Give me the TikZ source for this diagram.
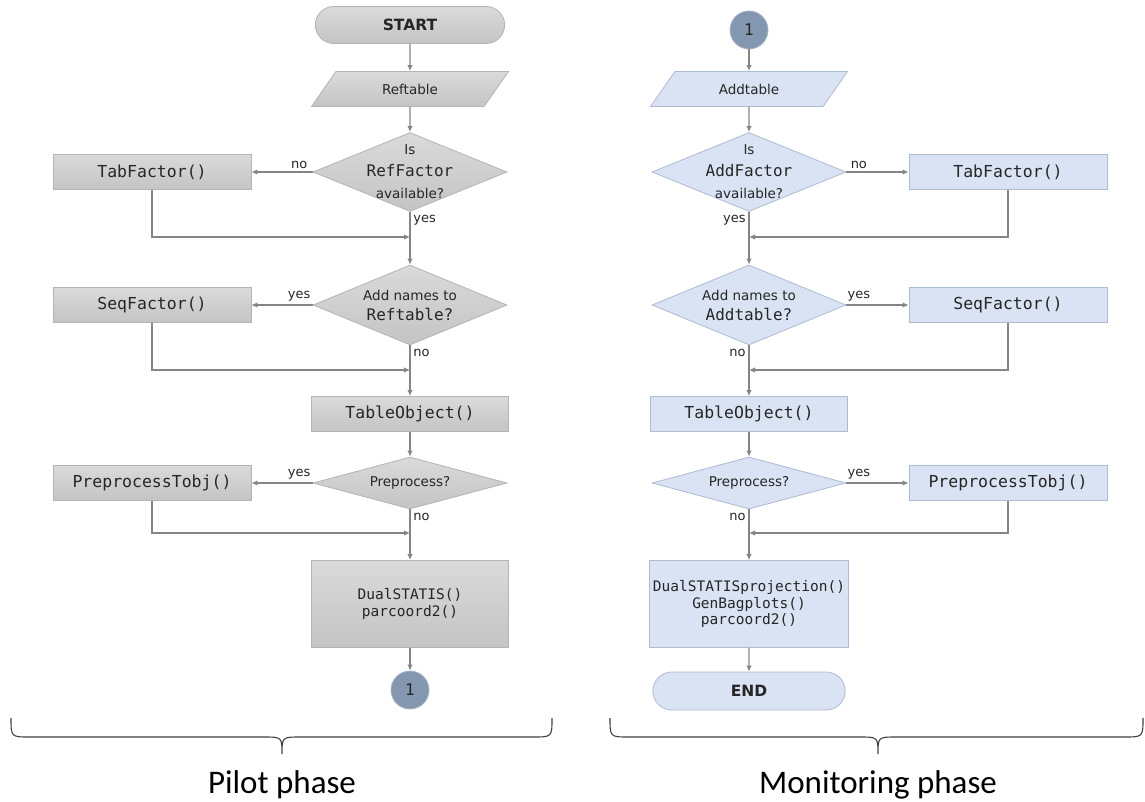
\documentclass[tikz,border=0pt]{standalone}
\usepackage{fontspec}
\setmainfont{DejaVu Sans}
\setmonofont{DejaVu Sans Mono}
\newfontfamily\phasefont{Carlito}
\usepackage{xcolor}
\usetikzlibrary{shapes.geometric,shapes.misc,arrows.meta}
\definecolor{pilottop}{HTML}{DADADA}
\definecolor{pilotbot}{HTML}{C4C4C4}
\definecolor{pilotline}{HTML}{B4B4B4}
\definecolor{monfill}{HTML}{DAE3F3}
\definecolor{monline}{HTML}{AEBBD3}
\definecolor{circfill}{HTML}{8497B0}
\definecolor{circline}{HTML}{A7B3C6}
\definecolor{arrgrey}{HTML}{858585}
\definecolor{txt}{HTML}{262626}
\tikzset{
  pilot/.style={draw=pilotline, top color=pilottop, bottom color=pilotbot},
  mon/.style={draw=monline, fill=monfill},
  every node/.style={text=txt, line width=0.8pt},
  term/.style={rounded rectangle, minimum width=196, minimum height=37, font=\bfseries\fontsize{15.5}{18}\selectfont},
  iobox/.style={trapezium, trapezium left angle=35, trapezium right angle=145, trapezium stretches body, minimum width=197, minimum height=35, font=\fontsize{13.5}{16}\selectfont},
  fbox/.style={rectangle, minimum width=198, minimum height=35, font=\ttfamily\fontsize{16.5}{18}\selectfont},
  bigbox/.style={rectangle, minimum width=197, minimum height=87, align=center, font=\ttfamily\fontsize{14.5}{16.5}\selectfont},
  dec/.style={diamond, minimum width=194, minimum height=#1, inner sep=0pt},
  dectext/.style={align=center, font=\fontsize{13.5}{22}\selectfont},
  conn/.style={circle, minimum size=38, inner sep=0pt, fill=circfill, draw=circline, font=\ttfamily\fontsize{16}{18}\selectfont},
  arr/.style={draw=arrgrey, line width=1.1pt, -{Latex[length=6pt,width=5.5pt]}},
  ylab/.style={font=\fontsize{13}{15}\selectfont, inner sep=3pt},
  brace/.style={draw=black!75, line width=1.1pt},
}
\begin{document}
\begin{tikzpicture}[x=1pt,y=-1pt]
\useasboundingbox (0,0) rectangle (1145,802);
\node[term,pilot] (start) at (410,25) {START};
\node[iobox,pilot] (reft) at (410,89) {Reftable};
\node[dec=79,pilot,label={[dectext]center:Is\\{\ttfamily\fontsize{16}{18}\selectfont RefFactor}\\available?}] (pd1) at (410,172) {};
\node[fbox,pilot] (ptab) at (152,172) {TabFactor()};
\node[dec=80,pilot,label={[dectext,font=\fontsize{13.5}{20}\selectfont]center:Add names to\\{\ttfamily\fontsize{16}{18}\selectfont Reftable?}}] (pd2) at (410,305) {};
\node[fbox,pilot] (pseq) at (152,305) {SeqFactor()};
\node[fbox,pilot,minimum width=197] (ptobj) at (410,414) {TableObject()};
\node[dec=52,pilot,label={[dectext]center:Preprocess?}] (pd3) at (410,483) {};
\node[fbox,pilot] (pprep) at (152,483) {PreprocessTobj()};
\node[bigbox,pilot] (pdual) at (410,604) {DualSTATIS()\\parcoord2()};
\node[conn] (pc) at (410,690) {1};
\coordinate (pj1) at (410,237);
\coordinate (pj2) at (410,370);
\coordinate (pj3) at (410,533);
\draw[arr] (start) -- (reft);
\draw[arr] (reft) -- (pd1);
\draw[arr] (pd1.west) -- node[ylab,above,pos=0.22]{no} (ptab.east);
\draw[arr] (pd1.south) node[ylab,anchor=north west]{yes} -- (pd2.north);
\draw[arr] (ptab.south) |- (pj1);
\draw[arr] (pd2.west) -- node[ylab,above,pos=0.22]{yes} (pseq.east);
\draw[arr] (pd2.south) node[ylab,anchor=north west]{no} -- (ptobj.north);
\draw[arr] (pseq.south) |- (pj2);
\draw[arr] (ptobj) -- (pd3);
\draw[arr] (pd3.west) -- node[ylab,above,pos=0.22]{yes} (pprep.east);
\draw[arr] (pd3.south) node[ylab,anchor=north west]{no} -- (pdual.north);
\draw[arr] (pprep.south) |- (pj3);
\draw[arr] (pdual) -- (pc);
\node[conn] (mc) at (749,30) {1};
\node[iobox,mon] (addt) at (749,89) {Addtable};
\node[dec=79,mon,label={[dectext]center:Is\\{\ttfamily\fontsize{16}{18}\selectfont AddFactor}\\available?}] (md1) at (749,172) {};
\node[fbox,mon] (mtab) at (1008,172) {TabFactor()};
\node[dec=80,mon,label={[dectext,font=\fontsize{13.5}{20}\selectfont]center:Add names to\\{\ttfamily\fontsize{16}{18}\selectfont Addtable?}}] (md2) at (749,305) {};
\node[fbox,mon] (mseq) at (1008,305) {SeqFactor()};
\node[fbox,mon,minimum width=197] (mtobj) at (749,414) {TableObject()};
\node[dec=52,mon,label={[dectext]center:Preprocess?}] (md3) at (749,483) {};
\node[fbox,mon] (mprep) at (1008,483) {PreprocessTobj()};
\node[bigbox,mon] (mdual) at (749,604) {DualSTATISprojection()\\GenBagplots()\\parcoord2()};
\node[term,mon,minimum width=199,minimum height=38] (mend) at (749,691) {END};
\coordinate (mj1) at (749,237);
\coordinate (mj2) at (749,370);
\coordinate (mj3) at (749,533);
\draw[arr] (mc) -- (addt);
\draw[arr] (addt) -- (md1);
\draw[arr] (md1.east) -- node[ylab,above,pos=0.2]{no} (mtab.west);
\draw[arr] (md1.south) node[ylab,anchor=north east]{yes} -- (md2.north);
\draw[arr] (mtab.south) |- (mj1);
\draw[arr] (md2.east) -- node[ylab,above,pos=0.2]{yes} (mseq.west);
\draw[arr] (md2.south) node[ylab,anchor=north east]{no} -- (mtobj.north);
\draw[arr] (mseq.south) |- (mj2);
\draw[arr] (mtobj) -- (md3);
\draw[arr] (md3.east) -- node[ylab,above,pos=0.2]{yes} (mprep.west);
\draw[arr] (md3.south) node[ylab,anchor=north east]{no} -- (mdual.north);
\draw[arr] (mprep.south) |- (mj3);
\draw[arr] (mdual) -- (mend);
\draw[brace] (11,718) .. controls (11,737) .. (30,737) -- (263,737) .. controls (282,737) .. (282,754) .. controls (282,737) .. (301,737) -- (533,737) .. controls (552,737) .. (552,718);
\draw[brace] (610,718) .. controls (610,737) .. (629,737) -- (859,737) .. controls (878,737) .. (878,754) .. controls (878,737) .. (897,737) -- (1124,737) .. controls (1143,737) .. (1143,718);
\node[font=\phasefont\fontsize{33}{36}\selectfont, text=black] (pilotlab) at (282,785) {Pilot phase};
\node[font=\phasefont\fontsize{33}{36}\selectfont, text=black] (monlab) at (878,785) {Monitoring phase};
\end{tikzpicture}
\end{document}
